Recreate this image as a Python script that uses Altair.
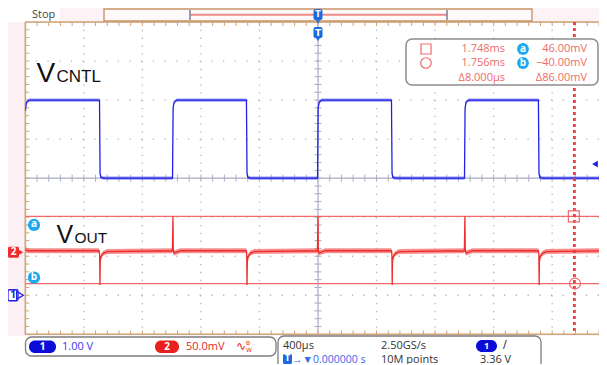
import altair as alt
import pandas as pd

# ---------------- data ----------------
# Channel 1 (V_CNTL) waveform: time in µs, volts
blue_t = [-2000, -1993, -1975, -1493, -1489, -1483, -1465, -994, -990, -983, -965,
          -489, -485, -479, -461, -3, 1, 8, 26, 502, 506, 512, 530,
          1001, 1005, 1012, 1030, 1506, 1510, 1516, 1534, 1980]
blue_v = [4.72, 4.93, 5.0, 5.0, 3.12, 3.02, 3.0, 3.0, 4.8, 4.95, 5.0,
          5.0, 3.12, 3.02, 3.0, 3.0, 4.8, 4.95, 5.0, 5.0, 3.12, 3.02, 3.0,
          3.0, 4.8, 4.95, 5.0, 5.0, 3.12, 3.02, 3.0, 3.0]

# Channel 2 (V_OUT) waveform: time in µs, millivolts
red_t = [-2000, -1985, -1496, -1492, -1490, -1488, -1482, -1465, -1440,
         -995, -991, -989, -985, -970, -940,
         -490, -487, -485, -483, -477, -460, -435,
         -4, 0, 2, 6, 20, 50,
         502, 505, 507, 509, 515, 532, 557,
         1000, 1004, 1006, 1010, 1025, 1055,
         1506, 1509, 1511, 1513, 1519, 1536, 1561, 1980]
red_mv = [4, 2, 2, -2, -42, -12, -5, -1, 1,
          2, 46, 4, -1, 0, 2,
          2, -2, -42, -12, -5, -1, 1,
          2, 46, 4, -1, 0, 2,
          2, -2, -42, -12, -5, -1, 1,
          2, 46, 4, -1, 0, 2,
          2, -2, -42, -12, -5, -1, 1, 2]

# scope settings
ch1_scale, ch1_offset_div = 1.0, -3.0      # V/div, ground position (div)
ch2_scale, ch2_offset_div = 50.0, -1.9     # mV/div, ground position (div)
time_per_div = 400.0                        # µs/div
trigger_level = 3.36                        # V

# cursors
cursor_t = [1748, 1756]            # µs
cursor_mv = [46.0, -40.0]          # mV
cursor_rows = [["1.748ms", "46.00mV"], ["1.756ms", "\u221240.00mV"], ["\u03948.000\u00b5s", "\u039486.00mV"]]

# readout texts
title_ch1 = ["V", "CNTL"]
title_ch2 = ["V", "OUT"]
status_text = "Stop"
ch1_readout = "1.00 V"
ch2_readout = "50.0mV"
timebase = "400\u00b5s"
sample_rate = "2.50GS/s"
record_len = "10M points"
trig_pos = "\u2192\u25bc0.000000 s"
trig_level_txt = "3.36 V"

# ---------------- layout ----------------
OX, OY = 25.3, 22.0       # page position of the graticule's top-left corner
RIGHT = 599.0             # page x of the drawable right edge
W, H = RIGHT - OX, 312.3  # visible graticule size
DIV_PX = 58.54
XMIN = -5 * time_per_div
XMAX = XMIN + W / DIV_PX * time_per_div

UI = "Open Sans"
SYM = "DejaVu Sans"
BLUE = "#2020e6"
RED = "#ee2c2c"
CUR = "#f06a6a"
CYAN = "#1ea8ee"
TAN = "#d2a476"
GRID = "#b4b4b4"
AXIS = "#a9abc4"
TBLUE = "#1a6be0"

xs = alt.Scale(domain=[XMIN, XMAX], nice=False, zero=False)
ys = alt.Scale(domain=[-4, 4], nice=False, zero=False)


def X(px):
    return px - OX


def Y(py):
    return py - OY


def XF(f):
    return alt.X(f, type="quantitative", scale=xs, axis=None)


def YF(f):
    return alt.Y(f, type="quantitative", scale=ys, axis=None)


one = pd.DataFrame({"k": [0]})


def label(text, x, y, size=11, color="#333333", align="left", font=UI, weight="normal", baseline="middle"):
    return alt.Chart(pd.DataFrame({"label": [text]})).mark_text(
        align=align, baseline=baseline, fontSize=size, color=color, font=font, fontWeight=weight
    ).encode(x=alt.value(X(x)), y=alt.value(Y(y)), text="label:N")


def box(x1, y1, x2, y2, fill="white", stroke=None, r=0, sw=1.0):
    kw = dict(fill=fill, cornerRadius=r)
    if stroke:
        kw.update(stroke=stroke, strokeWidth=sw)
    return alt.Chart(one).mark_rect(**kw).encode(
        x=alt.value(X(x1)), x2=alt.value(X(x2)), y=alt.value(Y(y1)), y2=alt.value(Y(y2)))


def hline(x1, x2, y, color, sw=1.0):
    return alt.Chart(one).mark_rule(color=color, strokeWidth=sw).encode(
        x=alt.value(X(x1)), x2=alt.value(X(x2)), y=alt.value(Y(y)))


def vline(x, y1, y2, color, sw=1.0):
    return alt.Chart(one).mark_rule(color=color, strokeWidth=sw).encode(
        x=alt.value(X(x)), y=alt.value(Y(y1)), y2=alt.value(Y(y2)))


def pt(x, y, shape, color, size, filled=True, sw=1.2):
    return alt.Chart(one).mark_point(shape=shape, filled=filled, color=color, size=size,
                                     strokeWidth=sw, opacity=1).encode(
        x=alt.value(X(x)), y=alt.value(Y(y)))


layers = []

# pale pink screen background outside graticule
layers.append(box(0, OY, OX, 336, fill="#fdf1f6"))
layers.append(box(60, 0, RIGHT, OY, fill="#fdf3f7"))

# graticule grid (dotted, 5 dots per division)
grid_t = [XMIN + time_per_div * i for i in range(1, 10) if i != 5]
grid_d = [d for d in range(-3, 4) if d != 0]
layers.append(alt.Chart(pd.DataFrame({"t": grid_t})).mark_rule(
    color=GRID, strokeWidth=1.3, strokeDash=[1.3, H / 40 - 1.3]
).encode(x=XF("t")))
layers.append(alt.Chart(pd.DataFrame({"d": grid_d})).mark_rule(
    color=GRID, strokeWidth=1.3, strokeDash=[1.3, DIV_PX / 5 - 1.3]
).encode(y=YF("d")))

# center axes
layers.append(alt.Chart(pd.DataFrame({"t": [0.0]})).mark_rule(color=AXIS, strokeWidth=1.2).encode(x=XF("t")))
layers.append(alt.Chart(pd.DataFrame({"d": [0.0]})).mark_rule(color=AXIS, strokeWidth=1.2).encode(y=YF("d")))

minor_t = [XMIN + time_per_div / 5 * i for i in range(1, 50)]
minor_d = [round(-4 + 0.2 * i, 3) for i in range(1, 40)]
tdf = pd.DataFrame({"t": minor_t, "z": [0.0] * len(minor_t)})
ddf = pd.DataFrame({"d": minor_d, "z": [0.0] * len(minor_d)})
# ticks on center axes
layers.append(alt.Chart(tdf).mark_rule(color=AXIS, strokeWidth=1, yOffset=-3.5, y2Offset=3.5, clip=True).encode(
    x=XF("t"), y=YF("z"), y2="z:Q"))
layers.append(alt.Chart(ddf).mark_rule(color=AXIS, strokeWidth=1, xOffset=-3.5, x2Offset=3.5).encode(
    y=YF("d"), x=XF("z"), x2="z:Q"))
# ticks on borders
layers.append(alt.Chart(tdf).mark_rule(color=TAN, strokeWidth=1, clip=True).encode(
    x=XF("t"), y=alt.value(0), y2=alt.value(4)))
layers.append(alt.Chart(tdf).mark_rule(color=TAN, strokeWidth=1, clip=True).encode(
    x=XF("t"), y=alt.value(H - 4), y2=alt.value(H)))
layers.append(alt.Chart(ddf).mark_rule(color=TAN, strokeWidth=1).encode(
    y=YF("d"), x=alt.value(0), x2=alt.value(4)))

# graticule border
layers.append(hline(OX, RIGHT, OY, TAN, 1.5))
layers.append(hline(OX, RIGHT, OY + H, TAN, 1.5))
layers.append(vline(OX, OY, OY + H, TAN, 1.5))

# cursor horizontal lines (ch2 units)
cur_h = pd.DataFrame({"mv": cursor_mv})
layers.append(alt.Chart(cur_h).transform_calculate(
    d=f"datum.mv / {ch2_scale} + ({ch2_offset_div})"
).mark_rule(color=CUR, strokeWidth=1.2).encode(y=YF("d")))

# waveforms
bdf = pd.DataFrame({"t": blue_t, "v": blue_v})
blue_base = alt.Chart(bdf).transform_calculate(
    d=f"datum.v / {ch1_scale} + ({ch1_offset_div})",
    lo=f"datum.v / {ch1_scale} + ({ch1_offset_div}) - 0.04",
    hi=f"datum.v / {ch1_scale} + ({ch1_offset_div}) + 0.04",
)
layers.append(blue_base.mark_area(color="#7070f0", opacity=0.7, clip=True).encode(
    x=XF("t"), y=YF("lo"), y2="hi:Q"))
layers.append(blue_base.mark_line(color=BLUE, strokeWidth=1.3, clip=True).encode(
    x=XF("t"), y=YF("d")))

rdf = pd.DataFrame({"t": red_t, "mv": red_mv})
red_base = alt.Chart(rdf).transform_calculate(
    d=f"datum.mv / {ch2_scale} + ({ch2_offset_div})",
    lo=f"(datum.mv - 3.2) / {ch2_scale} + ({ch2_offset_div})",
    hi=f"(datum.mv + 3.2) / {ch2_scale} + ({ch2_offset_div})",
)
layers.append(red_base.mark_area(color="#f46a6a", opacity=0.75, clip=True).encode(
    x=XF("t"), y=YF("lo"), y2="hi:Q"))
layers.append(red_base.mark_line(color=RED, strokeWidth=1.3, clip=True).encode(
    x=XF("t"), y=YF("d")))

# vertical cursors
cur_v = pd.DataFrame({"t": cursor_t})
layers.append(alt.Chart(cur_v).mark_rule(color="#e83a3a", strokeWidth=1.6, strokeDash=[3, 3]).encode(
    x=XF("t")))
for i, shp in enumerate(["square", "circle"]):
    cp = pd.DataFrame({"t": [cursor_t[i]], "mv": [cursor_mv[i]]})
    layers.append(alt.Chart(cp).transform_calculate(
        d=f"datum.mv / {ch2_scale} + ({ch2_offset_div})"
    ).mark_point(shape=shp, filled=False, color=CUR, strokeWidth=1.2, size=120, opacity=1).encode(
        x=XF("t"), y=YF("d")))

# cursor "a" / "b" badges at left (drawn just below/above their cursor lines)
for mv, lab_, off in [(cursor_mv[0], "a", -0.22), (cursor_mv[1], "b", 0.15)]:
    bd = pd.DataFrame({"mv": [mv], "lab": [lab_]})
    bb = alt.Chart(bd).transform_calculate(
        d=f"datum.mv / {ch2_scale} + ({ch2_offset_div}) + ({off})")
    layers.append(bb.mark_point(shape="circle", filled=True, color=CYAN, size=150, opacity=1).encode(
        x=alt.value(X(34)), y=YF("d")))
    layers.append(bb.mark_text(color="white", fontSize=10, fontWeight="bold", font=UI, dy=-0.5).encode(
        x=alt.value(X(34)), y=YF("d"), text="lab:N"))

# channel ground markers on the left
gm = pd.DataFrame({"d": [ch2_offset_div], "l": ["2"]})
layers.append(alt.Chart(gm).mark_rect(color=RED, cornerRadius=1.5, yOffset=-5.5, y2Offset=5.5).encode(
    x=alt.value(X(8)), x2=alt.value(X(19)), y=YF("d"), y2="d:Q"))
layers.append(alt.Chart(gm).mark_point(shape="triangle-right", filled=True, color=RED, size=60, opacity=1).encode(
    x=alt.value(X(20)), y=YF("d")))
layers.append(alt.Chart(gm).mark_text(color="white", fontSize=10, fontWeight="bold", font=UI).encode(
    x=alt.value(X(13.5)), y=YF("d"), text="l:N"))
gm1 = pd.DataFrame({"d": [ch1_offset_div], "l": ["1"]})
layers.append(alt.Chart(gm1).mark_rect(fill="white", stroke=BLUE, strokeWidth=1.3, cornerRadius=1.5,
                                       yOffset=-5.5, y2Offset=5.5).encode(
    x=alt.value(X(8)), x2=alt.value(X(18)), y=YF("d"), y2="d:Q"))
layers.append(alt.Chart(gm1).mark_point(shape="triangle-right", filled=False, color=BLUE, strokeWidth=1.3,
                                        size=60, opacity=1).encode(
    x=alt.value(X(20)), y=YF("d")))
layers.append(alt.Chart(gm1).mark_text(color=BLUE, fontSize=10, fontWeight="bold", font=UI).encode(
    x=alt.value(X(13)), y=YF("d"), text="l:N"))

# trigger level marker on the right edge
tl = pd.DataFrame({"v": [trigger_level]})
layers.append(alt.Chart(tl).transform_calculate(d=f"datum.v / {ch1_scale} + ({ch1_offset_div})").mark_point(
    shape="triangle-left", filled=True, color=BLUE, size=45, opacity=1).encode(
    x=alt.value(X(595)), y=YF("d")))

# ---------------- top status bar ----------------
layers.append(label(status_text, 32, 15, size=11, color="#444444"))
layers.append(box(104, 9, 532, 21, fill="#fffafa", stroke="#c8956a", sw=1.4))
layers.append(hline(190, 447, 14.8, "#f08a8a", 2.0))
layers.append(vline(190, 10, 20, "#6a7890", 1.4))
layers.append(vline(447, 10, 20, "#6a7890", 1.4))

# trigger position "T" markers
tp = pd.DataFrame({"t": [0.0], "l": ["T"]})
for (y1, y2, ytxt, yarr, fs) in [(27, 38, 32.5, 39.5, 9), (9, 20, 14.5, 22, 8)]:
    layers.append(alt.Chart(tp).mark_rect(color=TBLUE, cornerRadius=2, xOffset=-4.5, x2Offset=4.5).encode(
        x=XF("t"), x2="t:Q", y=alt.value(Y(y1)), y2=alt.value(Y(y2))))
    layers.append(alt.Chart(tp).mark_point(shape="triangle-down", filled=True, color=TBLUE, size=18,
                                           opacity=1).encode(x=XF("t"), y=alt.value(Y(yarr))))
    layers.append(alt.Chart(tp).mark_text(color="white", fontSize=fs, fontWeight="bold", font=SYM).encode(
        x=XF("t"), y=alt.value(Y(ytxt)), text="l:N"))

# ---------------- trace titles ----------------
layers.append(label(title_ch1[0], 36.5, 82, size=28, color="#111111", font="Liberation Sans", baseline="alphabetic"))
layers.append(label(title_ch1[1], 56.5, 82, size=17, color="#111111", font="Liberation Sans", baseline="alphabetic"))
layers.append(label(title_ch2[0], 56.5, 243, size=25, color="#111111", font="Liberation Sans", baseline="alphabetic"))
layers.append(label(title_ch2[1], 74.5, 243, size=15.5, color="#111111", font="Liberation Sans", baseline="alphabetic"))

# ---------------- cursor readout box ----------------
layers.append(box(406, 39, 598, 85, fill="white", stroke="#8c8c8c", r=6, sw=1.5))
layers.append(box(421, 44, 431, 54, fill="white", stroke=CUR, sw=1.2))
layers.append(pt(426, 63, "circle", CUR, 110, filled=False))
for i, (ty, vy) in enumerate(cursor_rows):
    yy = [49, 63, 78][i]
    layers.append(label(ty, 505, yy, size=11, color=CUR, align="right"))
    layers.append(label(vy, 587, yy, size=11, color=CUR, align="right"))
for lab_, yy in [("a", 49), ("b", 63)]:
    layers.append(pt(523, yy, "circle", CYAN, 140))
    layers.append(label(lab_, 523, yy - 0.5, size=10, color="white", align="center", weight="bold"))

# ---------------- bottom readouts ----------------
layers.append(box(25.5, 337, 276, 356, fill="white", stroke="#7c7c7c", r=6, sw=1.3))
layers.append(box(278, 336, 541, 372, fill="white", stroke="#7c7c7c", r=6, sw=1.3))
layers.append(box(29, 340.5, 56, 353, fill="#0c0cd8", r=6))
layers.append(label("1", 42.5, 346.5, size=10, color="white", align="center", weight="bold"))
layers.append(label(ch1_readout, 62, 346.5, size=11, color="#3a3ae6"))
layers.append(box(155, 340.5, 179, 353, fill="#e8201e", r=6))
layers.append(label("2", 167, 346.5, size=10, color="white", align="center", weight="bold"))
layers.append(label(ch2_readout, 186, 346.5, size=11, color="#e62828"))
layers.append(label("\u223f", 236, 346, size=12, color="#e62828", font=SYM))
layers.append(label("B", 246, 342.5, size=6, color="#e62828", font=SYM))
layers.append(label("W", 246, 349.5, size=6, color="#e62828", font=SYM))

layers.append(label(timebase, 283, 346, size=11, color="#333333"))
layers.append(label(sample_rate, 381, 346, size=11, color="#333333"))
layers.append(box(476, 340, 497, 352, fill="#0c0cd8", r=6))
layers.append(label("1", 486.5, 345.8, size=9, color="white", align="center", weight="bold"))
layers.append(label("/", 503, 345, size=11, color="#222222", font=SYM))
layers.append(box(283, 354, 292, 364, fill=TBLUE, r=1.5))
layers.append(label("T", 287.5, 359, size=8, color="white", align="center", weight="bold", font=SYM))
layers.append(label(trig_pos, 292, 359.5, size=10.5, color="#3a6ae6"))
layers.append(label(record_len, 381, 359.5, size=11, color="#333333"))
layers.append(label(trig_level_txt, 480, 360, size=11, color="#333333"))

chart = alt.layer(*layers).properties(
    width=W, height=H,
    autosize=alt.AutoSizeParams(type="none"),
    padding={"left": OX - 8, "top": OY - 8, "right": 0, "bottom": 372 - 8 - OY - H},
).configure_view(stroke=None).configure(background="white")

chart.save("out.html", embed_options={"renderer": "svg", "actions": False})
